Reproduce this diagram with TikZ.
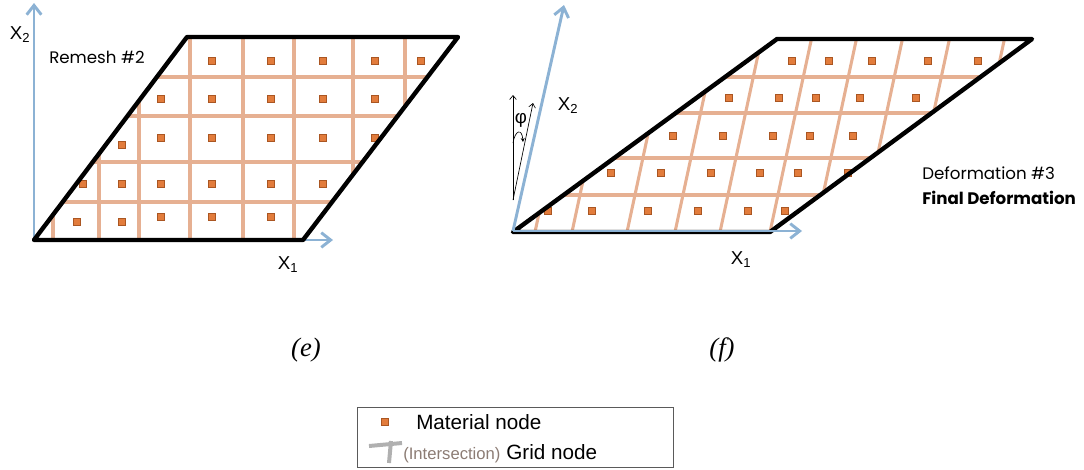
\documentclass[tikz,border=0pt]{standalone}
\usepackage{fontspec}
\setmainfont{Liberation Sans}
\newfontfamily\gothicfont{Poppins}
\newfontfamily\captionfont{Liberation Serif}
\usetikzlibrary{arrows.meta,positioning}
\definecolor{axisblue}{RGB}{140,178,212}
\definecolor{gridtan}{RGB}{230,176,146}
\definecolor{matfill}{RGB}{226,124,60}
\definecolor{matdraw}{RGB}{170,86,34}
\definecolor{crossgray}{RGB}{176,176,176}
\definecolor{intergray}{RGB}{140,124,116}
\definecolor{legendgray}{RGB}{90,90,90}

\begin{document}
\begin{tikzpicture}[x=0.75pt, y=-0.75pt,
  outline/.style={line width=3.3pt, line join=round, line cap=round},
  gridline/.style={line width=2.3pt, gridtan},
  axis/.style={line width=2.2pt, axisblue, -{Straight Barb[length=7pt,width=11pt]}},
  mat/.style={draw=matdraw, fill=matfill, line width=0.8pt, minimum size=5.4pt, inner sep=0pt},
  lbl/.style={font=\fontsize{14}{16}\selectfont, inner sep=0pt},
  gothic/.style={font=\gothicfont\fontsize{12.5}{15}\selectfont, inner sep=0pt, anchor=base west},
  panel/.style={font=\captionfont\itshape\fontsize{20}{23}\selectfont, inner sep=0pt},
  thinarrow/.style={line width=0.5pt, -{Straight Barb[length=3pt,width=5pt]}},
  crossbar/.style={line width=3pt, crossgray},
  legtext/.style={font=\fontsize{15.5}{18}\selectfont, inner sep=0pt, anchor=base west}
]
\useasboundingbox (0,0) rectangle (1084,469);

% (e) remesh #2
\coordinate (eO) at (34,240);
\coordinate (eBR) at (303,240);
\coordinate (eTR) at (458,37);
\coordinate (eTL) at (187,37);
\coordinate (eX1) at (333,240);
\coordinate (eX2) at (34,3);
\draw[axis] (eO) -- (eX1);
\draw[axis] (eO) -- (eX2);
\begin{scope}
  \clip (eO) -- (eBR) -- (eTR) -- (eTL) -- cycle;
  \foreach \x in {53,99,139,190,243,294,353,405}
    \draw[gridline] (\x,30) -- (\x,250);
  \foreach \y in {77,116,162,202}
    \draw[gridline] (20,\y) -- (470,\y);
\end{scope}
\foreach \x/\y [count=\i] in {212/61,271/61,323/61,375/61,421/61,
    161/99,212/99,271/99,323/99,375/99,
    122/145,161/138,212/138,271/138,323/138,375/138,
    83/184,122/184,161/184,212/184,271/184,323/184,
    77/222,122/222,161/217,212/217,271/217}
  \node[mat] (em\i) at (\x,\y) {};
\draw[outline] (eO) -- (eBR) -- (eTR) -- (eTL) -- cycle;
\node[lbl] (eX2lbl) at (20,35) {X\textsubscript{2}};
\node[lbl] (eX1lbl) at (288,265) {X\textsubscript{1}};
\node[gothic] (remesh) at (49,63) {Remesh \#2};
\node[panel] (ecap) at (306,350) {(e)};

% (f) final deformation
\coordinate (fO) at (513,232);
\coordinate (fBR) at (770,232);
\coordinate (fTR) at (1032,39);
\coordinate (fTL) at (777,39);
\coordinate (fA) at (513,231);
\coordinate (fX1) at (802,231);
\coordinate (fX2) at (564,5);
\begin{scope}
  \clip (fO) -- (fBR) -- (fTR) -- (fTL) -- cycle;
  \foreach \b in {535,572,627,675,720,770,815,861,908,963}
    \draw[gridline] (\b,232) -- ++(44,-205);
  \foreach \y in {77,113,158,195}
    \draw[gridline] (500,\y) -- (1050,\y);
\end{scope}
\foreach \x/\y [count=\i] in {792/61,829/61,872/61,928/61,978/61,
    729/98,779/98,816/98,860/98,916/98,
    673/136,723/136,773/136,810/136,853/136,
    611/173,661/173,711/173,760/173,798/173,848/173,
    548/211,592/211,648/211,698/211,748/211,785/211}
  \node[mat] (fm\i) at (\x,\y) {};
\draw[outline] (fO) -- (fBR) -- (fTR) -- (fTL) -- cycle;
\draw[axis] (fA) -- (fX1);
\draw[axis] (fA) -- (fX2);
\node[lbl] (fX2lbl) at (568,106) {X\textsubscript{2}};
\node[lbl] (fX1lbl) at (741,260) {X\textsubscript{1}};
\node[gothic] (deform) at (922,179) {Deformation \#3};
\node[gothic, font=\gothicfont\bfseries\fontsize{12.5}{15}\selectfont] (final) at (922,204) {Final Deformation};
\node[panel] (fcap) at (722,350) {(f)};

% angle phi
\coordinate (phiO) at (513,200);
\coordinate (phiV) at (513,95);
\coordinate (phiS) at (533,103);
\coordinate (arcA) at (513,143);
\coordinate (arcB) at (523,142);
\draw[thinarrow] (phiO) -- (phiV);
\draw[thinarrow] (phiO) -- (phiS);
\draw[line width=0.5pt, -{Stealth[length=3pt,width=3pt]}] (arcA) .. controls (515,130) and (522,128) .. (arcB);
\node[lbl] (phi) at (521,120) {φ};

% legend
\node[draw=legendgray, line width=0.75pt, minimum width=237pt, minimum height=45.5pt, inner sep=0pt] (legend) at (515,437.5) {};
\node[mat, minimum size=4.6pt] (legmat) at (385,422) {};
\node[legtext] (legmattext) at (416,429) {Material node};
\coordinate (crossL) at (369,446);
\coordinate (crossR) at (402,443);
\coordinate (crossT) at (391,441);
\coordinate (crossB) at (389,463);
\draw[crossbar] (crossL) -- (crossR);
\draw[crossbar] (crossT) -- (crossB);
\node[legtext, font=\fontsize{12.5}{15}\selectfont, text=intergray] (leginter) at (403,459) {(Intersection)};
\node[legtext, base right=4pt of leginter] (leggrid) {Grid node};
\end{tikzpicture}
\end{document}
